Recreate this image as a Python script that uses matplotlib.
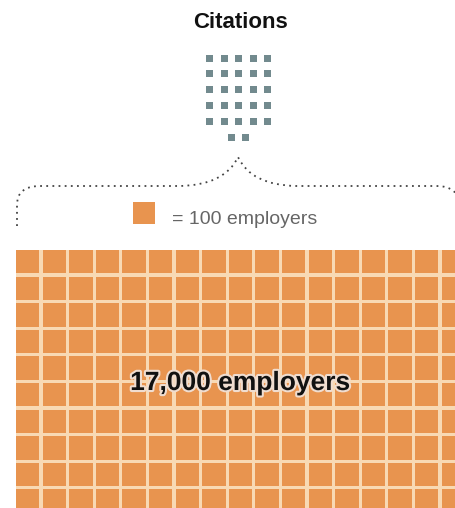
import matplotlib
matplotlib.use('Agg')
import matplotlib.pyplot as plt
from matplotlib.patches import Rectangle, PathPatch
from matplotlib.path import Path
import matplotlib.patheffects as pe

# data
citations = 27
employers = 17000
unit = 100
title = 'Citations'
legend_label = '= 100 employers'
total_label = '17,000 employers'

orange = '#e8944f'
cream = '#f8d9b4'
slate = '#728a8e'

fig = plt.figure(figsize=(4.55, 5.08), dpi=100)
ax = fig.add_axes([0, 0, 1, 1])
ax.set_xlim(0, 455)
ax.set_ylim(508, 0)
ax.axis('off')

# citations: one square per citation, 5 per row
per_row = 5
cx0, cy0, cpitch_x, cpitch_y, csize = 209.5, 58, 14.5, 15.8, 7
center_x = cx0 + (per_row - 1) * cpitch_x / 2
for i in range(citations):
  r, c = divmod(i, per_row)
  in_row = min(per_row, citations - r * per_row)
  x = center_x + (c - (in_row - 1) / 2) * cpitch_x
  y = cy0 + r * cpitch_y
  ax.add_patch(Rectangle((x - csize / 2, y - csize / 2), csize, csize, color=slate, lw=0))

ax.text(240, 23, title, ha='center', va='center', fontsize=16, fontweight='bold',
        family='Liberation Sans', color='#111111')

# dotted brace
verts = [(17, 226), (17, 205), (17, 186), (40, 186), (180, 186), (225, 185), (238, 157),
         (251, 185), (296, 186), (436, 186), (459, 186), (459, 205), (459, 226)]
codes = [Path.MOVETO, Path.LINETO, Path.CURVE3, Path.CURVE3, Path.LINETO, Path.CURVE3, Path.CURVE3,
         Path.CURVE3, Path.CURVE3, Path.LINETO, Path.CURVE3, Path.CURVE3, Path.LINETO]
ax.add_patch(PathPatch(Path(verts, codes), fill=False, edgecolor='#444444', lw=1.3,
                       linestyle=(0, (1, 2.4))))

# legend
pitch, cell = 26.6, 23.4
ax.add_patch(Rectangle((133, 202), 22, 22, color=orange, lw=0))
ax.text(172, 219, legend_label, ha='left', va='center', fontsize=14, family='Liberation Sans',
        color='#666666')

# employers grid: 17 x 10
n = employers // unit
cols = 17
rows = -(-n // cols)
gx, gy = 16, 250
ax.add_patch(Rectangle((gx, gy), cols * pitch - (pitch - cell), rows * pitch - (pitch - cell),
                       color=cream, lw=0))
for i in range(n):
  r, c = divmod(i, cols)
  ax.add_patch(Rectangle((gx + c * pitch, gy + r * pitch), cell, cell, color=orange, lw=0))

ax.text(240, 383, total_label, ha='center', va='center', fontsize=19, fontweight='bold',
        family='Liberation Sans', color='#111111',
        path_effects=[pe.withStroke(linewidth=3, foreground='#f0ddd0')])

plt.savefig('out.png', dpi=100)
